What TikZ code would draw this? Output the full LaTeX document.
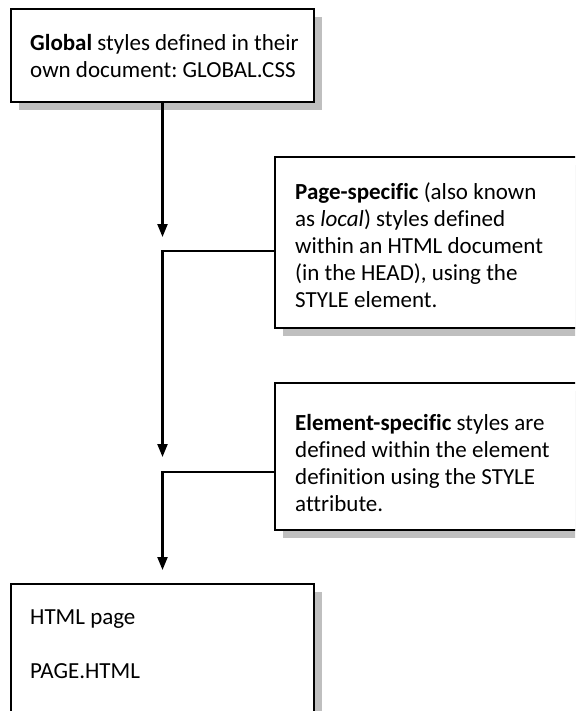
\documentclass[tikz,border=0pt]{standalone}
\usepackage{fontspec}
\setmainfont{Carlito}[Ligatures=NoCommon]
\frenchspacing
\usetikzlibrary{arrows.meta,shadows}
\begin{document}
\begin{tikzpicture}[x=1pt,y=-1pt,
        box/.style={draw, line width=2.2pt, fill=white, inner sep=0pt,
            drop shadow={shadow xshift=8pt, shadow yshift=-8pt, fill=black!25, opacity=1}},
        txt/.style={anchor=north west, align=left, inner sep=0pt, font=\fontsize{23}{27}\selectfont},
        arr/.style={line width=2.2pt, -{Triangle[length=13pt,width=10pt]}}]
            \useasboundingbox (0,0) rectangle (575,711);
            \clip (0,0) rectangle (575,711);

            \node[box, minimum width=303pt, minimum height=93pt] (glob) at (162.5,55.5) {};
            \node[box, minimum width=345pt, minimum height=171pt] (page) at (447.5,242.5) {};
            \node[box, minimum width=345pt, minimum height=147pt] (elem) at (447.5,456.5) {};
            \node[box, minimum width=303pt, minimum height=176pt] (html) at (162.5,672) {};

            \node[txt] (globtxt) at (30,34) {\textbf{Global} styles defined in their\\own document: GLOBAL.CSS};
            \node[txt] (pagetxt) at (295,182) {\textbf{Page-specific} (also known\\as \textit{local}) styles defined\\within an HTML document\\(in the HEAD), using the\\STYLE element.};
            \node[txt] (elemtxt) at (295,414) {\textbf{Element-specific} styles are\\defined within the element\\definition using the STYLE\\attribute.};
            \node[txt] (htmltxt) at (30,610) {HTML page\\[27pt]PAGE.HTML};

            \coordinate (tip1) at (162.5,237);
            \coordinate (join1) at (162.5,251);
            \coordinate (tip2) at (162.5,457);
            \coordinate (join2) at (162.5,472);
            \coordinate (tip3) at (162.5,570);

            \draw[arr] (glob.south) -- (tip1);
            \draw[arr] (page.west |- join1) -- (join1) -- (tip2);
            \draw[arr] (elem.west |- join2) -- (join2) -- (tip3);
        \end{tikzpicture}
\end{document}
